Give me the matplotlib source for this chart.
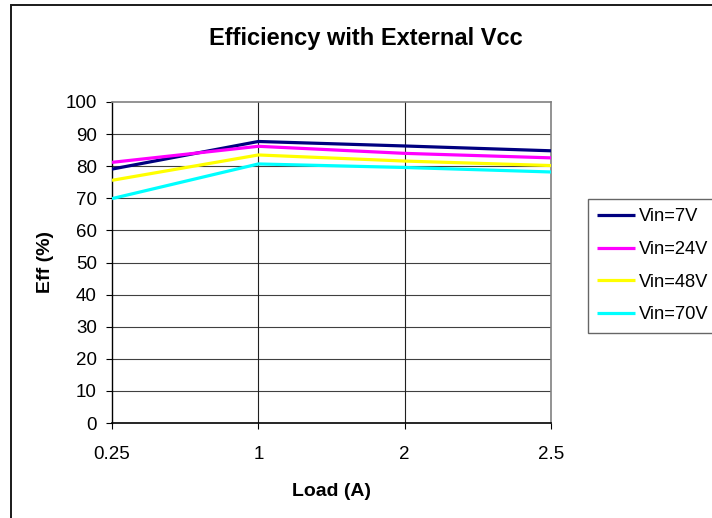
import matplotlib
matplotlib.use("Agg")
import matplotlib.pyplot as plt
from matplotlib.patches import Rectangle

plt.rcParams['font.family'] = ['Liberation Sans', 'DejaVu Sans']

categories = ["0.25", "1", "2", "2.5"]
series_names = ["Vin=7V", "Vin=24V", "Vin=48V", "Vin=70V"]
vin7 = [79.1, 87.7, 86.3, 84.8]
vin24 = [81.2, 86.2, 84.0, 82.6]
vin48 = [75.6, 83.5, 81.6, 80.2]
vin70 = [69.9, 80.7, 79.6, 78.2]
colors = ["#000080", "#FF00FF", "#FFFF00", "#00FFFF"]
yticks = list(range(0, 101, 10))

W, H = 712, 518
fig = plt.figure(figsize=(W / 100, H / 100), dpi=100)

# figure border (cropped on the right and bottom)
fig.patches.append(Rectangle((11 / W, -0.2), 1.2, 1.2 - 5 / H,
                             transform=fig.transFigure, fill=False,
                             edgecolor="#1a1a1a", linewidth=1.4))

ax = fig.add_axes([112 / W, 1 - 423 / H, (551 - 112) / W, (423 - 102) / H])
x = list(range(len(categories)))
for vals, c, name in zip([vin7, vin24, vin48, vin70], colors, series_names):
    ax.plot(x, vals, color=c, linewidth=2.3, label=name, solid_capstyle='butt', zorder=3)

ax.set_xlim(0, len(categories) - 1)
ax.set_ylim(0, 100)
ax.set_yticks(yticks)
ax.set_xticks(x)
ax.set_xticklabels(categories)
for yv in yticks[1:-1]:
    ax.axhline(yv, color="#404040", linewidth=0.8, zorder=1)
for xv in x[1:-1]:
    ax.axvline(xv, color="#202020", linewidth=0.8, zorder=1)

ax.spines['left'].set_color('black')
ax.spines['bottom'].set_color('black')
ax.spines['left'].set_linewidth(1.0)
ax.spines['bottom'].set_linewidth(1.2)
ax.spines['top'].set_color('#808080')
ax.spines['right'].set_color('#808080')
ax.spines['top'].set_linewidth(1.2)
ax.spines['right'].set_linewidth(1.2)

ax.tick_params(axis='y', direction='out', length=4, width=0.8, pad=7, labelsize=13.5)
ax.tick_params(axis='x', direction='out', length=4.5, width=0.8, pad=12, labelsize=13.5)

fig.text(366 / W, 1 - 39 / H, "Efficiency with External Vcc", ha='center', va='center',
         fontsize=17, fontweight='bold')
fig.text(331 / W, 1 - 491 / H, "Load (A)", ha='center', va='center',
         fontsize=14, fontweight='bold')
fig.text(45 / W, 1 - 262 / H, "Eff (%)", ha='center', va='center', rotation=90,
         fontsize=14, fontweight='bold')

leg = fig.legend(loc='upper left', bbox_to_anchor=(588 / W, 1 - 199 / H),
                 bbox_transform=fig.transFigure, fontsize=13.2, frameon=True,
                 fancybox=False, handlelength=2.05, handletextpad=0.25,
                 labelspacing=0.86, borderpad=0.5, borderaxespad=0)
leg.get_frame().set_edgecolor('#404040')
leg.get_frame().set_linewidth(1.0)

fig.savefig("out.png", dpi=100)
